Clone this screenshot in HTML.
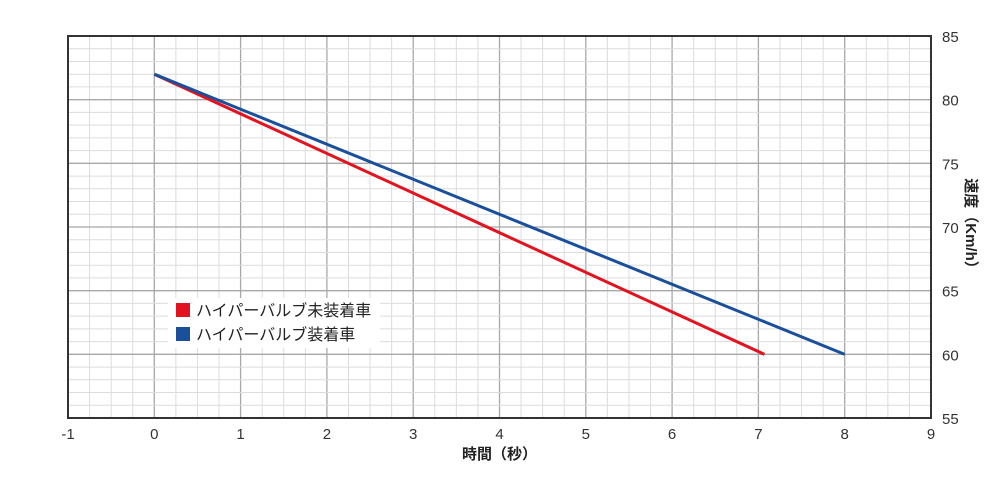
<!DOCTYPE html>
<html><head><meta charset="utf-8">
<style>
body{margin:0;background:#fff;width:1000px;height:477px;overflow:hidden;font-family:"Liberation Sans","Noto Sans CJK JP",sans-serif;}
svg{display:block}
</style></head>
<body>
<svg id="chart" width="1000" height="477" xmlns="http://www.w3.org/2000/svg"></svg>
<script>
const seriesNames = ["ハイパーバルブ未装着車","ハイパーバルブ装着車"];
const seriesColors = ["#e3121f","#1a4f9c"];
const redX = [0, 7.07];
const redY = [82, 60];
const blueX = [0, 8];
const blueY = [82, 60];
const xTicks = [-1,0,1,2,3,4,5,6,7,8,9];
const yTicks = [55,60,65,70,75,80,85];

const L=68,R=931,T=36,B=418;
const xMin=-1,xMax=9,yMin=55,yMax=85;
const sx=v=>L+(v-xMin)/(xMax-xMin)*(R-L);
const sy=v=>B-(v-yMin)/(yMax-yMin)*(B-T);
const svg=document.getElementById('chart');
const NS="http://www.w3.org/2000/svg";
function mk(tag,attrs,parent){const e=document.createElementNS(NS,tag);for(const k in attrs)e.setAttribute(k,attrs[k]);(parent||svg).appendChild(e);return e;}

const grid=mk('g',{});


for(let v=xMin;v<=xMax+1e-9;v+=0.25){
  const major=Math.abs(v-Math.round(v))<1e-9;
  const l=mk('line',{x1:sx(v),x2:sx(v),y1:T,y2:B,stroke:major?'#a8a8a8':'#dcdcdc','stroke-width':major?1.3:1},grid);
  
  
}
for(let v=yMin;v<=yMax;v+=1){
  const major=v%5===0;
  const l=mk('line',{x1:L,x2:R,y1:sy(v),y2:sy(v),stroke:major?'#a8a8a8':'#dcdcdc','stroke-width':major?1.3:1},grid);
  
  
}
const frame=mk('rect',{x:L,y:T,width:R-L,height:B-T,fill:'none',stroke:'#333','stroke-width':2});



xTicks.forEach(v=>{
  const t=mk('text',{x:sx(v),y:B+21,'text-anchor':'middle','font-size':15,fill:'#333'});
  t.textContent=v;
  
  
});
yTicks.forEach(v=>{
  const t=mk('text',{x:942,y:sy(v)+6,'text-anchor':'start','font-size':15,fill:'#333'});
  t.textContent=v;
  
  
});
const xt=mk('text',{x:sx(4),y:459,'text-anchor':'middle','font-size':15,'font-weight':'bold',fill:'#222'});
xt.textContent='時間（秒）';


const yt=mk('text',{x:0,y:0,'text-anchor':'middle','font-size':15,'font-weight':'bold',fill:'#222',transform:'translate(966,227) rotate(90)'});
yt.textContent='速度（Km/h）';



function drawLine(xs,ys,color,name){
  const pts=xs.map((x,i)=>sx(x)+','+sy(ys[i])).join(' ');
  const p=mk('polyline',{points:pts,fill:'none',stroke:color,'stroke-width':3});
  
  
}
drawLine(redX,redY,seriesColors[0],'series-without-valve');
drawLine(blueX,blueY,seriesColors[1],'series-with-valve');

const lg=mk('g',{});


mk('rect',{x:168,y:298,width:212,height:50,fill:'#fff'},lg);
seriesNames.forEach((n,i)=>{
  const y=310+i*24;
  const g=mk('g',{},lg);
  
  
  mk('rect',{x:176,y:y-7,width:14,height:14,fill:seriesColors[i]},g);
  const t=mk('text',{x:196,y:y+6,'font-size':16,fill:'#222'},g);
  t.textContent=n;
});
</script>
</body></html>
